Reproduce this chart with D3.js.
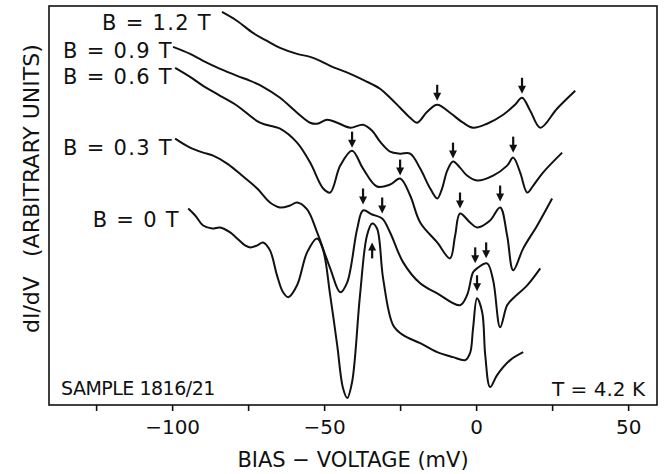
<!DOCTYPE html>
<html>
<head>
<meta charset="utf-8">
<script src="https://cdn.jsdelivr.net/npm/d3@7"></script>
<style>
  body { margin: 0; background: #fff; }
  svg text { font-family: "DejaVu Sans", sans-serif; fill: #111; }
</style>
</head>
<body>
<div id="chart"></div>
<script>
// field labels, top to bottom
var fields = ["B = 1.2 T", "B = 0.9 T", "B = 0.6 T", "B = 0.3 T", "B = 0 T"];

// dI/dV curves: [bias (mV), dI/dV (arb. units)]
var curve12 = [[-83.6,98.5],[-78.6,96.25],[-73.4,93.25],[-68.8,91.25],[-64.5,89.5],[-58.9,88],[-54.6,87.25],
  [-51.3,86.25],[-48,85],[-41.4,83],[-36.5,81.25],[-31.6,79.25],[-28.3,77],[-25,74.5],[-21.7,72],[-19.4,70.75],
  [-16.1,73.5],[-12.8,75.25],[-8.6,73.25],[-4.3,70.75],[-1,69.5],[3.6,70.5],[8.9,72.75],[12.8,75.25],[15.1,77],
  [17.8,73.75],[21.1,69.5],[26.6,74.25],[32.6,78.75]];
var curve09 = [[-99.7,89.75],[-94.1,88],[-89.8,86.25],[-84.2,84.25],[-78.6,82.5],[-74.3,81.25],[-70.1,79.75],
  [-64.5,77],[-58.9,73.25],[-54.6,70.75],[-52.3,70.5],[-49,71.5],[-45.7,70.75],[-41.4,69.5],[-37.2,70.25],
  [-34.2,68.75],[-31.6,66],[-28.3,63.5],[-25,63],[-21.7,63],[-18.4,59.25],[-15.1,54.25],[-12.8,51.75],
  [-11.2,54.25],[-9.5,58.75],[-7.6,61],[-5.3,59.5],[-3,57.5],[0.3,56.25],[5.6,57.5],[10.2,60],[12.2,62],
  [14.5,58.25],[16.8,53.25],[18.8,55],[22,58.25],[28.3,63.25]];
var curve06 = [[-99,84.5],[-94.1,82.25],[-89.8,80],[-84.2,77.5],[-78.6,75],[-71.1,70.75],[-64.5,69.25],
  [-58.9,65.75],[-54.6,60.75],[-50.3,54.25],[-48,53.25],[-44.7,60],[-40.8,63.75],[-37.2,59.25],[-32.6,54.75],
  [-28.3,55.25],[-25,56.75],[-21.7,52.5],[-18.4,45.75],[-12.8,40.75],[-8.6,36.75],[-6.9,42.5],[-5.3,48],
  [-2,45.75],[0.3,44.5],[4.6,46.25],[7.9,49.5],[10.2,42.5],[12.2,33.75],[15.5,39.25],[20.1,45],[25,51.75]];
var curve03 = [[-99,66.75],[-94.1,64.5],[-89.8,63.25],[-86.5,62.5],[-81.9,60.5],[-76.6,57.25],[-72,54.25],
  [-67.8,50.75],[-64.5,49.5],[-61.2,50],[-58.9,50.75],[-55.6,49],[-52.3,43.25],[-48,34.25],[-44.7,28.25],
  [-42.4,30.75],[-39.1,44.25],[-37.2,48.75],[-34.2,47.75],[-30.9,46.75],[-28.3,43.25],[-24,35.75],[-18.4,30.5],
  [-12.8,28],[-5.3,25],[-3,27.5],[-1,33.25],[0.3,34.25],[3.6,35.5],[5.6,31.25],[7.9,19.5],[10.2,25],
  [12.2,26.75],[16.8,30],[21.1,34.25]];
var curve00 = [[-94.7,49.25],[-92.4,47.5],[-89.8,45],[-86.8,44.25],[-84.2,44.5],[-80.9,43.25],[-78.6,41.75],
  [-76,40],[-74.3,39.5],[-72,40],[-70.1,40.75],[-67.8,38.75],[-65.5,32.5],[-63.5,28.25],[-61.8,27],[-58.9,30],
  [-55.6,38.25],[-52.3,41.75],[-50.3,38.75],[-48,27.5],[-45.7,15],[-43.8,4.25],[-42.4,1.75],[-40.8,5.75],
  [-38.2,27.5],[-35.9,42.5],[-34.2,45.5],[-32.6,44.25],[-30.6,31.75],[-27.3,20],[-24,17.5],[-18.4,15.5],
  [-12.8,13.25],[-7.6,12],[-3.6,11.25],[-2,13],[-1,19.25],[0.3,26.75],[2,23.25],[3,12.5],[4.6,4.5],
  [6.9,7.5],[11.2,11.25],[15.5,13.25]];

// peak markers: [bias (mV), arrow tip (arb. units), direction]
var arrows12 = [[-12.8,76.25,"down"],[15.1,78,"down"]];
var arrows09 = [[-7.6,61.75,"down"],[12.2,63.25,"down"]];
var arrows06 = [[-40.8,64.5,"down"],[-25,57.5,"down"],[-5.3,49.25,"down"],[7.9,51,"down"]];
var arrows03 = [[-37.2,50.25,"down"],[-30.9,48,"down"],[-0.3,35.5,"down"],[3.3,36.75,"down"]];
var arrows00 = [[-34.2,40.75,"up"],[0.3,28.5,"down"]];

var xTicks = [-125, -100, -75, -50, -25, 0, 25, 50];
var xTickLabels = [-100, -50, 0, 50];

var curves = [curve12, curve09, curve06, curve03, curve00];
var arrows = [arrows12, arrows09, arrows06, arrows03, arrows00];

var width = 664, height = 474;
var box = { left: 49, right: 657, top: 6, bottom: 405 };

var svg = d3.select("#chart").append("svg")
    .attr("width", width)
    .attr("height", height);

var x = d3.scaleLinear().domain([-140.5, 59.5]).range([box.left, box.right]);
var y = d3.scaleLinear().domain([0, 100]).range([box.bottom, box.top]);

svg.append("rect")
    .attr("x", box.left).attr("y", box.top)
    .attr("width", box.right - box.left).attr("height", box.bottom - box.top)
    .attr("fill", "none").attr("stroke", "#111").attr("stroke-width", 1.6);

var xAxis = d3.axisBottom(x)
    .tickValues(xTicks)
    .tickSizeInner(6).tickSizeOuter(0)
    .tickPadding(9)
    .tickFormat(function(d) { return xTickLabels.indexOf(d) >= 0 ? d3.format("")(d) : ""; });

var gx = svg.append("g")
    .attr("transform", "translate(0," + box.bottom + ")")
    .call(xAxis);
gx.select(".domain").remove();
gx.selectAll(".tick line").attr("stroke", "#111").attr("stroke-width", 1.6);
gx.selectAll(".tick text")
    .style("font-family", "DejaVu Sans, sans-serif")
    .style("font-size", "20px")
    .attr("fill", "#111");

svg.append("text")
    .attr("x", (box.left + box.right) / 2)
    .attr("y", 467)
    .attr("text-anchor", "middle")
    .style("font-size", "21px")
    .text("BIAS \u2212 VOLTAGE (mV)");

// y label, two parts with a wide gap
svg.append("text")
    .attr("transform", "translate(39,333) rotate(-90)")
    .style("font-size", "22px")
    .text("dI/dV");
svg.append("text")
    .attr("transform", "translate(39,257) rotate(-90)")
    .style("font-size", "22px")
    .text("(ARBITRARY UNITS)");

var line = d3.line()
    .x(function(d) { return x(d[0]); })
    .y(function(d) { return y(d[1]); })
    .curve(d3.curveCatmullRom.alpha(0.5));

svg.selectAll(".curve")
    .data(curves)
    .enter().append("path")
        .attr("class", "curve")
        .attr("d", line)
        .attr("fill", "none")
        .attr("stroke", "#111")
        .attr("stroke-width", 2)
        .attr("stroke-linejoin", "round");

// arrows
var arrowLen = 16, headLen = 8, headHalf = 4;
arrows.forEach(function(list) {
    list.forEach(function(a) {
        var ax = x(a[0]), tip = y(a[1]);
        var s = a[2] == "down" ? -1 : 1;   // tail side
        var g = svg.append("g");
        g.append("line")
            .attr("x1", ax).attr("x2", ax)
            .attr("y1", tip + s * arrowLen).attr("y2", tip + s * (headLen - 1))
            .attr("stroke", "#111").attr("stroke-width", 2.2);
        g.append("path")
            .attr("d", "M" + ax + "," + tip +
                " L" + (ax - headHalf) + "," + (tip + s * headLen) +
                " L" + (ax + headHalf) + "," + (tip + s * headLen) + " Z")
            .attr("fill", "#111");
    });
});

// field labels (end anchored at left of each curve)
var labelPos = [[212, 30], [173, 58], [173, 84], [173, 155], [180, 227]];
svg.selectAll(".field")
    .data(fields)
    .enter().append("text")
        .attr("class", "field")
        .attr("x", function(d, i) { return labelPos[i][0]; })
        .attr("y", function(d, i) { return labelPos[i][1]; })
        .attr("text-anchor", "end")
        .style("font-size", "21px")
        .style("letter-spacing", "1.3px")
        .text(function(d) { return d; });

svg.append("text")
    .attr("x", 61).attr("y", 395)
    .style("font-size", "19px")
    .style("letter-spacing", "-0.5px")
    .text("SAMPLE 1816/21");

svg.append("text")
    .attr("x", 645).attr("y", 396)
    .attr("text-anchor", "end")
    .style("font-size", "20px")
    .text("T = 4.2 K");
</script>
</body>
</html>
